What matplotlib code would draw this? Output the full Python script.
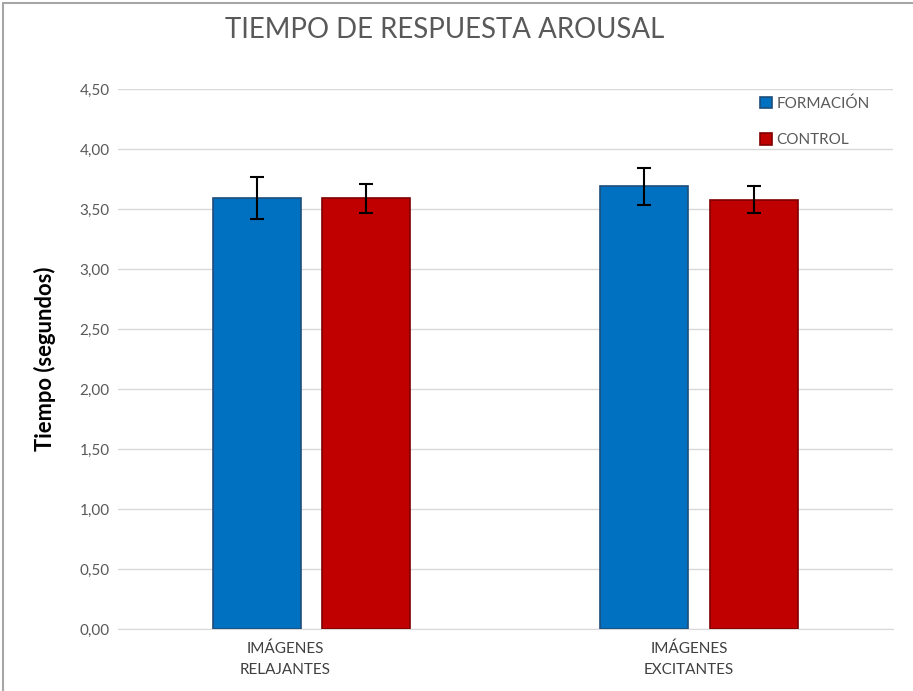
import matplotlib
matplotlib.use("Agg")
import matplotlib.pyplot as plt
import matplotlib.transforms as mtransforms
from matplotlib.patches import Rectangle
import numpy as np

plt.rcParams['font.family'] = ['Lato', 'DejaVu Sans']

categories = ["IMÁGENES\nRELAJANTES", "IMÁGENES\nEXCITANTES"]
series_names = ["FORMACIÓN", "CONTROL"]
formacion = [3.59, 3.69]
formacion_err = [0.175, 0.155]
control = [3.59, 3.58]
control_err = [0.12, 0.11]
yticks = [0.0, 0.5, 1.0, 1.5, 2.0, 2.5, 3.0, 3.5, 4.0, 4.5]

fig = plt.figure(figsize=(9.13, 6.91), dpi=100)
ax = fig.add_axes([0.129, 0.0897, 0.849, 0.7813])

x = np.arange(len(categories))
w = 0.227
off = 0.141
ekw = dict(ecolor="black", elinewidth=1.5, capsize=5, capthick=1.5)
ax.bar(x - off, formacion, w, color="#0070C0", edgecolor="#1F4E79", linewidth=1.2,
       yerr=formacion_err, error_kw=ekw, label=series_names[0], zorder=3)
ax.bar(x + off, control, w, color="#C00000", edgecolor="#7F0000", linewidth=1.2,
       yerr=control_err, error_kw=ekw, label=series_names[1], zorder=3)

ax.set_xlim(-0.5, 1.5)
ax.set_ylim(0, 4.5)
ax.set_yticks(yticks)
ax.set_yticklabels([f"{v:.2f}".replace(".", ",") for v in yticks], color="#595959", fontsize=11)
ax.yaxis.grid(True, color="#D9D9D9", linewidth=1, zorder=0)
ax.set_axisbelow(True)
for s in ["top", "right", "left"]:
    ax.spines[s].set_visible(False)
ax.spines["bottom"].set_color("#D9D9D9")
ax.tick_params(axis="both", length=0)
ax.tick_params(axis="y", pad=6)

ax.set_xticks(x)
ax.set_xticklabels(categories, color="#404040", fontsize=11, linespacing=1.6)
ax.tick_params(axis="x", pad=9)
shifts = [-26, -10]
for lab, s in zip(ax.get_xticklabels(), shifts):
    lab.set_transform(lab.get_transform() + mtransforms.ScaledTranslation(s / 100, 0, fig.dpi_scale_trans))

ax.set_ylabel("Tiempo (segundos)", fontsize=15.8, fontweight="bold", color="black", labelpad=17)

fig.text(0.487, 0.957, "TIEMPO DE RESPUESTA AROUSAL", ha="center", va="center",
         fontsize=19.9, color="#595959")

leg = ax.legend(loc="upper right", bbox_to_anchor=(0.988, 1.012), frameon=False, fontsize=11,
                handlelength=0.8, handleheight=0.8, handletextpad=0.3, labelspacing=1.45,
                labelcolor="#595959")

fig.patches.append(Rectangle((0.003, -0.01), 1.2, 1.006, transform=fig.transFigure,
                             fill=False, edgecolor="#A6A6A6", linewidth=1.5))

fig.savefig("out.png", dpi=100)
